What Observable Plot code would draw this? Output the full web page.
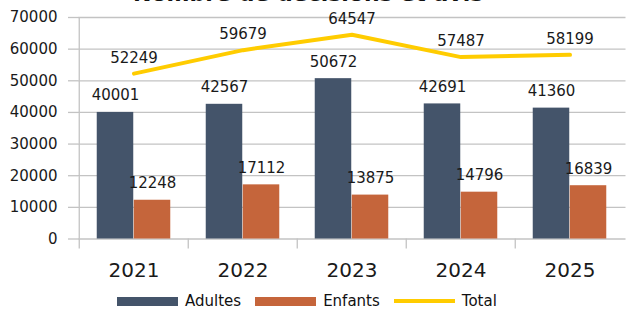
<!DOCTYPE html>
<html>
<head>
<meta charset="utf-8">
<script src="https://cdn.jsdelivr.net/npm/d3@7"></script>
<script src="https://cdn.jsdelivr.net/npm/@observablehq/plot@0.6"></script>
<style>
  html, body { margin: 0; padding: 0; background: white; overflow: hidden; }
  #wrap { position: relative; width: 626px; height: 311px; overflow: hidden; font-family: "DejaVu Sans", Verdana, sans-serif; }
  #title { position: absolute; left: 133px; top: -17.5px; font-size: 22px; line-height: 22px; font-weight: bold; color: #111; white-space: nowrap; }
  #legend { position: absolute; left: 117px; top: 292px; display: flex; align-items: center; font-size: 15px; color: #111; height: 18px; }
  .sw { display: inline-block; width: 61px; margin-right: 7px; }
  .lab { margin-right: 14px; }
</style>
</head>
<body>
<div id="wrap">
  <div id="chart"></div>
  <div id="title">Nombre de décisions et avis</div>
  <div id="legend"></div>
</div>
<script>
const years = ["2021", "2022", "2023", "2024", "2025"];
const adultes = [40001, 42567, 50672, 42691, 41360];
const enfants = [12248, 17112, 13875, 14796, 16839];
const total = [52249, 59679, 64547, 57487, 58199];
const yTicks = [0, 10000, 20000, 30000, 40000, 50000, 60000, 70000];
const seriesNames = ["Adultes", "Enfants", "Total"];
const colors = ["#44546a", "#c5653b", "#ffcc00"];

const rows = years.map((y, i) => ({year: y, adultes: adultes[i], enfants: enfants[i], total: total[i]}));

const W = 626, H = 311, mL = 78, mR = 0.5, mT = 17, mB = 72.5;
const bw = (W - mL - mR) / years.length;
const barW = bw * 0.338;
const gap = (bw - 2 * barW) / 2;
const aCenter = gap + barW / 2 - bw / 2;
const eCenter = gap + barW * 1.5 - bw / 2;
const grid = "#c3c3c3";
const ink = "#1a1a1a";

const chart = Plot.plot({
  width: W, height: H,
  marginLeft: mL, marginRight: mR, marginTop: mT, marginBottom: mB,
  style: {fontFamily: "DejaVu Sans, Verdana, sans-serif", fontSize: "15px", background: "white", color: ink},
  x: {domain: years, padding: 0, axis: null, label: null},
  y: {domain: [0, 70000], axis: null, label: null},
  marks: [
    Plot.gridY(yTicks, {stroke: grid, strokeOpacity: 1, strokeWidth: 1.3}),
    Plot.axisY(yTicks, {label: null, tickSize: 10, tickPadding: 11, stroke: grid, strokeOpacity: 1, strokeWidth: 1.3, fill: ink, fontSize: 15, tickFormat: d => String(d)}),
    Plot.ruleX([years[0]], {dx: -bw / 2, stroke: grid, strokeWidth: 1.3}),
    Plot.axisX(years, {label: null, tickSize: 10, tickPadding: 0, dx: -bw / 2, stroke: grid, strokeOpacity: 1, strokeWidth: 1.3, tickFormat: () => ""}),
    Plot.axisX(years, {label: null, tickSize: 0, tickPadding: 24, fontSize: 20, fill: ink}),
    Plot.barY(rows, {x: "year", y: "adultes", fill: colors[0], insetLeft: gap, insetRight: bw - gap - barW}),
    Plot.barY(rows, {x: "year", y: "enfants", fill: colors[1], insetLeft: gap + barW, insetRight: gap}),
    Plot.lineY(rows, {x: "year", y: "total", stroke: colors[2], strokeWidth: 4}),
    Plot.text(rows, {x: "year", y: "adultes", text: d => String(d.adultes), dx: aCenter, dy: -12, lineAnchor: "bottom", fill: ink, fontSize: 15}),
    Plot.text(rows, {x: "year", y: "enfants", text: d => String(d.enfants), dx: eCenter, dy: -12, lineAnchor: "bottom", fill: ink, fontSize: 15}),
    Plot.text(rows, {x: "year", y: "total", text: d => String(d.total), dy: -11, lineAnchor: "bottom", fill: ink, fontSize: 15})
  ]
});
document.getElementById("chart").appendChild(chart);

const legend = document.getElementById("legend");
seriesNames.forEach((name, i) => {
  const sw = document.createElement("span");
  sw.className = "sw";
  sw.style.background = colors[i];
  sw.style.height = i === 2 ? "4px" : "9px";
  legend.appendChild(sw);
  const lab = document.createElement("span");
  lab.className = "lab";
  lab.textContent = name;
  legend.appendChild(lab);
});
</script>
</body>
</html>
